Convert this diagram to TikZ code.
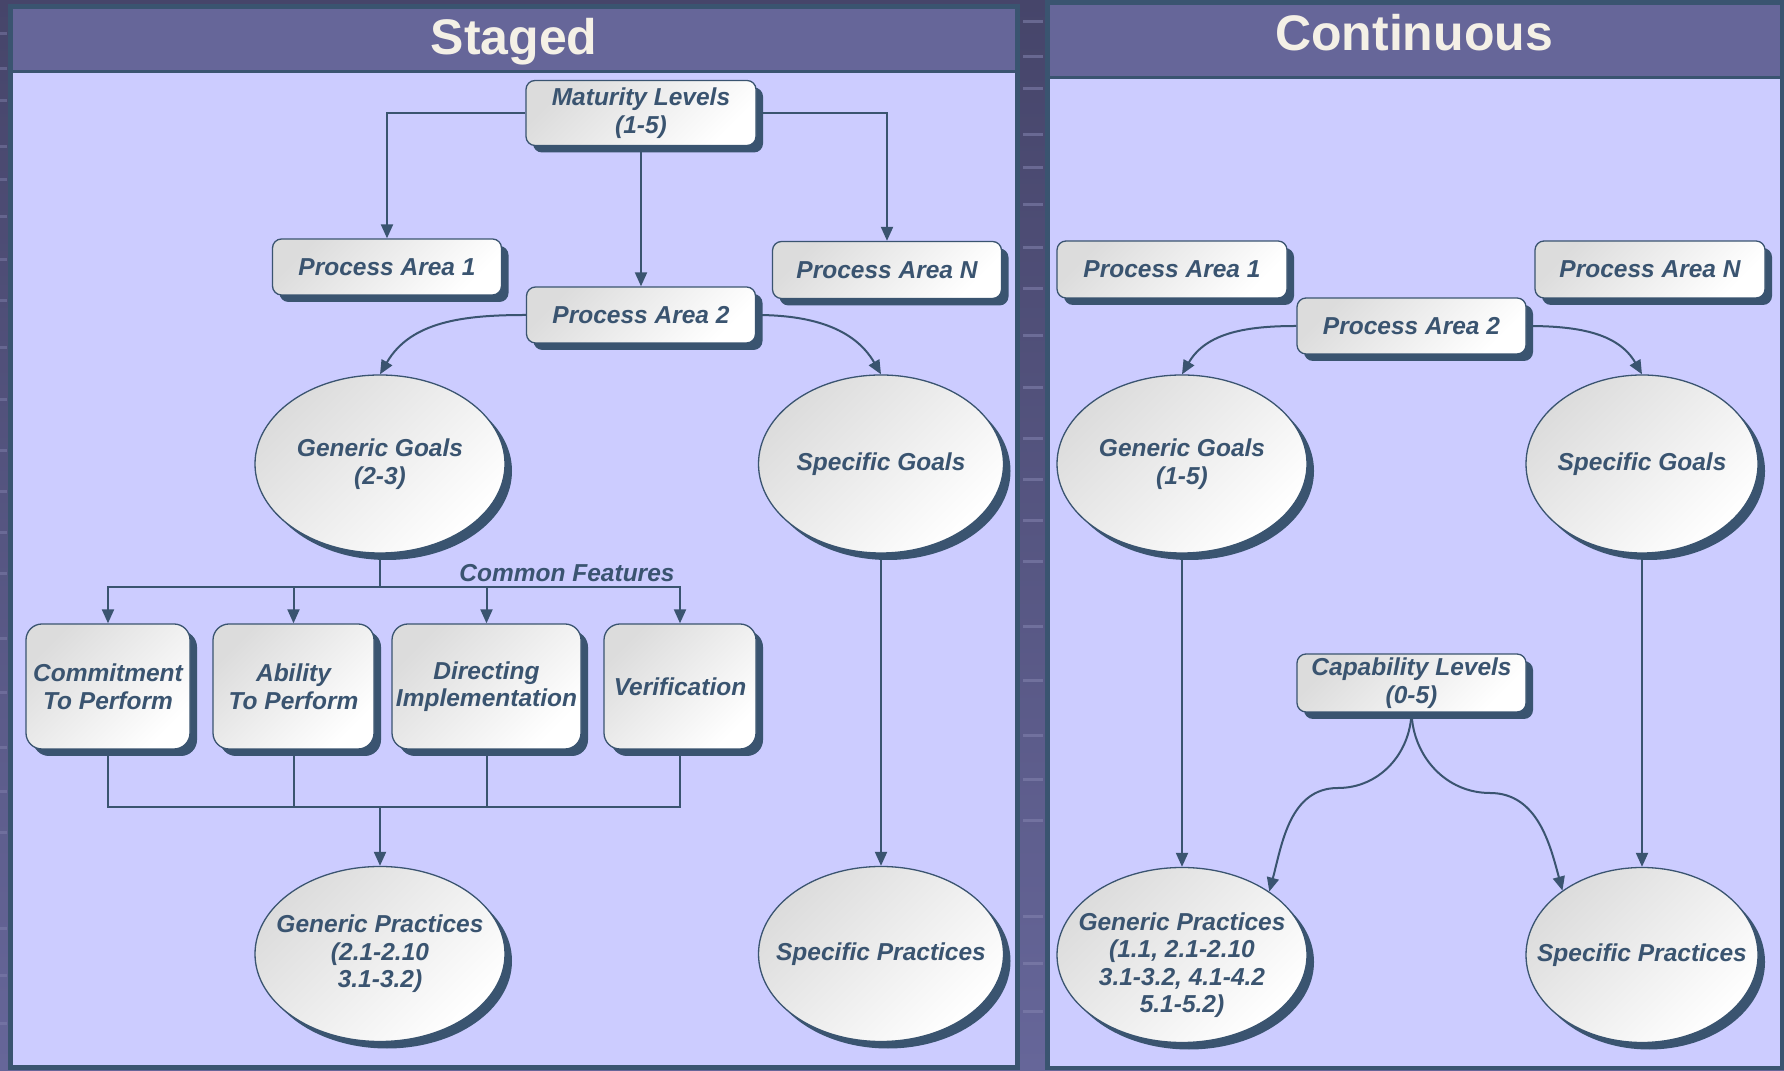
\documentclass[tikz,border=0pt]{standalone}
\usepackage{fontspec}
\setmainfont{Liberation Sans}
\usetikzlibrary{arrows.meta,shapes.geometric,shadows}
\definecolor{slate}{HTML}{3A5470}
\definecolor{barfill}{HTML}{666699}
\definecolor{bodyfill}{HTML}{CCCCFF}
\definecolor{titletext}{HTML}{F4F0E6}
\definecolor{nodegray}{HTML}{DCDCDC}
\definecolor{bgtop}{HTML}{46456A}
\definecolor{bgbot}{HTML}{666699}
\definecolor{stripe}{HTML}{8484B0}

\begin{document}
\begin{tikzpicture}[x=1pt,y=1pt,
  every node/.style={font=\fontsize{24.5}{27.5}\selectfont\bfseries\itshape, text=slate},
  base/.style={draw=slate, line width=1.3pt, top color=nodegray, bottom color=white,
    shading angle=45, align=center, inner sep=0pt,
    drop shadow={shadow xshift=7pt, shadow yshift=-7pt, fill=slate, opacity=1}},
  box/.style={base, rectangle, rounded corners=9pt},
  featurebox/.style={base, rectangle, rounded corners=16pt, minimum height=125pt},
  oval/.style={base, ellipse, inner sep=-40pt},
  line/.style={draw=slate, line width=2pt},
  conn/.style={line, -{Triangle[length=14pt,width=12pt]}},
  heading/.style={font=\fontsize{50}{50}\selectfont\bfseries, text=titletext, anchor=base},
]
\useasboundingbox (0,0) rectangle (1784,1070);

% backdrop with faint horizontal bars
\shade[top color=bgtop, bottom color=bgbot] (0,0) rectangle (1784,1070);
\foreach \yy in {1050,1015,983,937,904,867,824,783,736,684,633,592,551,510,445,391,336,292,251,155,108,60}{
  \fill[stripe, opacity=0.55] (1023,\yy) rectangle (1043,\yy-3);
  \fill[stripe, opacity=0.45] (0,\yy-12) rectangle (7,\yy-15);
}

% staged panel
\fill[slate] (8,0) rectangle (1020,1066);
\fill[barfill] (13,1000) rectangle (1015,1061);
\fill[bodyfill] (13,5) rectangle (1015,997);
\node[heading] (tstaged) at (514,1015) {Staged};

% continuous panel
\fill[slate] (1045,0) rectangle (1784,1070);
\fill[barfill] (1050,994) rectangle (1780,1065);
\fill[bodyfill] (1050,4) rectangle (1780,991);
\node[heading] (tcont) at (1414,1019) {Continuous};

% staged representation nodes
\node[box, minimum width=230pt, minimum height=65pt] (ml) at (641,957) {Maturity Levels\\(1-5)};
\node[box, minimum width=229pt, minimum height=56pt] (pa1) at (387,803) {Process Area 1};
\node[box, minimum width=229pt, minimum height=57pt] (pan) at (887,800) {Process Area N};
\node[box, minimum width=229pt, minimum height=56pt] (pa2) at (641,755) {Process Area 2};
\node[oval, minimum width=250pt, minimum height=178pt] (gg) at (380,606) {Generic Goals\\(2-3)};
\node[oval, minimum width=245pt, minimum height=178pt] (sg) at (881,606) {Specific Goals};
\node (cflabel) at (567,497) {Common Features};
\node[featurebox, minimum width=164pt] (cf1) at (108,383.5) {Commitment\\To Perform};
\node[featurebox, minimum width=161pt] (cf2) at (293.5,383.5) {Ability\\To Perform};
\node[featurebox, minimum width=189pt] (cf3) at (486.5,383.5) {Directing\\Implementation};
\node[featurebox, minimum width=152pt] (cf4) at (680,383.5) {Verification};
\node[oval, minimum width=250pt, minimum height=175pt] (gp) at (380,116) {Generic Practices\\(2.1-2.10\\3.1-3.2)};
\node[oval, minimum width=245pt, minimum height=175pt] (sp) at (881,116) {Specific Practices};

% staged connectors
\draw[conn] (ml.west) -| (pa1.north);
\draw[conn] (ml.east) -| (pan.north);
\draw[conn] (ml.south) -- (pa2.north);
\draw[conn] (pa2.west) to[out=180,in=60] (gg.north);
\draw[conn] (pa2.east) to[out=0,in=120] (sg.north);
\coordinate (split) at (380,483);
\draw[line] (gg.south) -- (split);
\foreach \b in {cf1,cf2,cf3,cf4} \draw[conn] (split) -| (\b.north);
\coordinate (merge) at (380,263);
\foreach \b in {cf1,cf2,cf3,cf4} \draw[line] (\b.south) |- (merge);
\draw[conn] (merge) -- (gp.north);
\draw[conn] (sg.south) -- (sp.north);

% continuous representation nodes
\node[box, minimum width=230pt, minimum height=57pt] (rpa1) at (1172,800.5) {Process Area 1};
\node[box, minimum width=230pt, minimum height=57pt] (rpan) at (1650,800.5) {Process Area N};
\node[box, minimum width=229pt, minimum height=56pt] (rpa2) at (1411.5,744) {Process Area 2};
\node[oval, minimum width=250pt, minimum height=178pt] (rgg) at (1182,606) {Generic Goals\\(1-5)};
\node[oval, minimum width=232pt, minimum height=178pt] (rsg) at (1642,606) {Specific Goals};
\node[box, minimum width=229pt, minimum height=58pt] (rcl) at (1411.5,387) {Capability Levels\\(0-5)};
\node[oval, minimum width=250pt, minimum height=175pt] (rgp) at (1182,115) {\rule{0pt}{38pt}Generic Practices\\(1.1, 2.1-2.10\\3.1-3.2, 4.1-4.2\\5.1-5.2)};
\node[oval, minimum width=232pt, minimum height=175pt] (rsp) at (1642,115) {Specific Practices};

% continuous connectors
\draw[conn] (rpa2.west) to[out=180,in=60] (rgg.north);
\draw[conn] (rpa2.east) to[out=0,in=120] (rsg.north);
\draw[conn] (rgg.south) -- (rgp.north);
\draw[conn] (rsg.south) -- (rsp.north);
\coordinate (cmidl) at (1338,282);
\coordinate (cmidr) at (1490,277);
\draw[conn] (rcl.south) to[out=-92,in=0] (cmidl) to[out=180,in=75] (rgp.36);
\draw[conn] (rcl.south) to[out=-88,in=180] (cmidr) to[out=0,in=105] (rsp.141);
\end{tikzpicture}
\end{document}
